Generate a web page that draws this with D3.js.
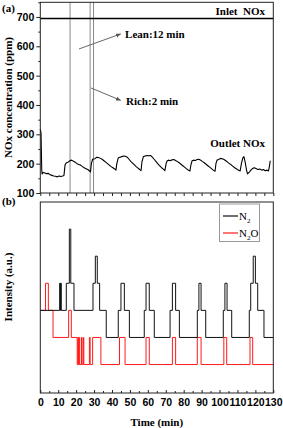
<!DOCTYPE html>
<html lang="en">
  <head>
    <meta charset="UTF-8" />
    <title>NOx lean/rich cycling</title>
    <script src="https://cdn.jsdelivr.net/npm/d3@7"></script>
    <style>
      body {
        margin: 0;
        background: #fff;
      }
      svg {
        font-family: "Liberation Serif", "Times New Roman", serif;
        display: block;
      }
      .axis text {
        font-size: 10.5px;
        font-weight: bold;
        fill: #000;
      }
      .axis path,
      .axis line {
        stroke: #222;
      }
      .lbl {
        font-size: 11px;
        font-weight: bold;
      }
    </style>
  </head>
  <body>
    <div class="chart"></div>
    <script>
      // ---- data ----
      var inletNOx = 695;

      // outlet NOx, [time (min), ppm]
      var outletNOx = [
        [0, 318], [0.4, 305], [0.8, 180], [1.0, 165], [1.5, 170], [2.5, 168],
        [3.5, 166], [4.5, 167], [5.5, 162], [6.5, 160], [7.5, 158], [8.5, 157],
        [9.5, 155], [10.5, 158], [11.5, 156], [12.5, 158], [13.2, 160], [13.8, 195],
        [14.5, 203], [15.5, 205], [16.5, 210], [17.5, 212], [18.5, 208], [19.5, 205],
        [20.5, 200], [21.5, 197], [22.5, 195], [23.5, 190], [24.5, 186], [25.5, 183],
        [26.5, 180], [27.5, 175], [28.0, 172], [28.5, 200], [29.2, 215], [30.5, 217],
        [31.5, 222], [32.5, 221], [33.5, 218], [34.5, 215], [35.5, 210], [36.5, 205],
        [37.5, 200], [38.5, 195], [39.5, 190], [40.5, 186], [41.5, 182], [42.2, 178],
        [42.7, 200], [43.5, 220], [44.5, 222], [45.5, 224], [46.5, 226], [47.5, 225],
        [48.5, 222], [49.5, 215], [50.5, 208], [51.5, 202], [52.5, 196], [53.5, 190],
        [54.5, 185], [55.5, 180], [56.2, 176], [56.7, 205], [57.5, 224], [58.5, 226],
        [59.5, 228], [60.5, 227], [61.5, 228], [62.5, 222], [63.5, 215], [64.5, 208],
        [65.5, 200], [66.5, 193], [67.5, 187], [68.5, 182], [69.5, 176], [70.2, 200],
        [70.8, 210], [71.5, 212], [72.5, 210], [73.5, 213], [74.5, 214], [75.5, 211],
        [76.5, 207], [77.5, 203], [78.5, 198], [79.5, 193], [80.5, 188], [81.5, 183],
        [82.5, 178], [83.5, 175], [84.0, 195], [84.7, 210], [85.5, 212], [86.5, 211],
        [87.5, 214], [88.5, 215], [89.5, 212], [90.5, 207], [91.5, 203], [92.5, 198],
        [93.5, 193], [94.5, 188], [95.5, 183], [96.5, 178], [97.5, 174], [98.0, 200],
        [98.6, 212], [99.5, 214], [100.5, 218], [101.5, 217], [102.5, 214], [103.5, 210],
        [104.5, 205], [105.5, 200], [106.5, 196], [107.5, 191], [108.5, 186], [109.5, 182],
        [110.5, 178], [111.5, 175], [112.2, 200], [113.0, 220], [113.6, 224], [114.3, 205],
        [115.0, 180], [115.6, 165], [116.5, 170], [117.5, 178], [118.5, 184], [119.5, 186],
        [120.5, 183], [121.5, 180], [122.5, 182], [123.5, 178], [124.5, 180], [125.5, 176],
        [126.5, 178], [127.3, 175], [127.8, 190], [128.3, 210]
      ];

      // switching marks (min)
      var cycleMarks = [16.6, 27.8, 29.7];

      // N2 and N2O signal, step levels [time (min), level]
      var n2Steps = [
        [0, 2], [10.8, 3], [11.2, 2], [11.4, 3], [11.7, 2], [14.5, 3], [16.2, 5],
        [17.0, 3], [18.8, 2], [29.4, 3], [30.7, 4], [31.8, 3], [33.1, 2], [36.8, 1],
        [43.5, 2], [45.0, 3], [46.9, 2], [49.7, 1], [58.0, 2], [59.0, 3], [60.8, 2],
        [63.6, 1], [72.4, 2], [73.7, 3], [75.5, 2], [77.6, 1], [87.6, 2], [88.5, 3],
        [89.7, 2], [92.3, 1], [102.1, 2], [103.0, 3], [104.2, 2], [106.8, 1],
        [116.6, 2], [117.4, 3], [118.8, 4], [120.0, 3], [121.3, 2], [124.8, 1], [130, 1]
      ];
      var n2oSteps = [
        [0, 2], [2.9, 3], [4.5, 2], [7.1, 1], [15.8, 2], [17.3, 1], [20.6, 0],
        [21.0, 1], [21.3, 0], [21.7, 1], [22.0, 0], [23.0, 1], [23.3, 0], [24.0, 1],
        [24.3, 0], [27.4, 1], [27.8, 0], [29.2, 1], [33.8, 0], [44.2, 1], [47.3, 0],
        [59.0, 1], [60.8, 0], [73.7, 1], [75.5, 0], [87.6, 1], [89.7, 0], [102.4, 1],
        [104.0, 0], [117.0, 1], [118.5, 0], [130, 0]
      ];

      var timeTicks = d3.range(0, 131, 10);

      // ---- layout ----
      var W = 283, H = 428;
      var svg = d3
        .select(".chart")
        .append("svg")
        .attr("width", W)
        .attr("height", H);

      var x = d3.scaleLinear().domain([0, 130]).range([40.3, 273.3]);
      var ya = d3.scaleLinear().domain([100, 750]).range([193, 2.3]);
      var yb = d3.scaleLinear().domain([-1.05, 6]).range([393, 202]);

      // arrow head
      svg
        .append("defs")
        .append("marker")
        .attr("id", "arr")
        .attr("viewBox", "0 0 10 10")
        .attr("refX", 9)
        .attr("refY", 5)
        .attr("markerWidth", 5)
        .attr("markerHeight", 5)
        .attr("orient", "auto")
        .append("path")
        .attr("d", "M0,1L10,5L0,9Z")
        .attr("fill", "#555");

      // ================= panel (a) =================
      var a = svg.append("g");

      // cycle marker lines
      a.selectAll(".mark")
        .data(cycleMarks)
        .enter()
        .append("line")
        .attr("x1", (d) => x(d))
        .attr("x2", (d) => x(d))
        .attr("y1", ya(750))
        .attr("y2", ya(100))
        .attr("stroke", "#8a8a8a")
        .attr("stroke-width", 1);

      // inlet line
      a.append("line")
        .attr("x1", x(0))
        .attr("x2", x(130))
        .attr("y1", ya(inletNOx))
        .attr("y2", ya(inletNOx))
        .attr("stroke", "#000")
        .attr("stroke-width", 1.5);

      // outlet line
      var lineA = d3
        .line()
        .x((d) => x(d[0]))
        .y((d) => ya(d[1]));
      a.append("path")
        .datum(outletNOx)
        .attr("fill", "none")
        .attr("stroke", "#000")
        .attr("stroke-width", 1.1)
        .attr("stroke-linejoin", "round")
        .attr("d", lineA);

      // frame
      a.append("rect")
        .attr("x", x(0))
        .attr("y", ya(750))
        .attr("width", x(130) - x(0))
        .attr("height", ya(100) - ya(750))
        .attr("fill", "none")
        .attr("stroke", "#222");

      // y axis with minor ticks
      a.append("g")
        .attr("class", "axis")
        .attr("transform", "translate(" + x(0) + ",0)")
        .call(d3.axisLeft(ya).tickValues(d3.range(100, 701, 100)).tickSize(4).tickPadding(2))
        .call((g) => g.select(".domain").remove());
      a.append("g")
        .attr("class", "axis")
        .attr("transform", "translate(" + x(0) + ",0)")
        .call(d3.axisLeft(ya).tickValues(d3.range(150, 751, 100)).tickSize(2).tickFormat(""))
        .call((g) => g.select(".domain").remove());

      // x ticks, no labels
      a.append("g")
        .attr("class", "axis")
        .attr("transform", "translate(0," + ya(100) + ")")
        .call(d3.axisBottom(x).tickValues(d3.range(0, 131, 5)).tickSize(3).tickFormat(""))
        .call((g) => g.select(".domain").remove());

      // annotations
      a.append("line")
        .attr("x1", x(21.6))
        .attr("y1", ya(591))
        .attr("x2", x(44.8))
        .attr("y2", ya(642))
        .attr("stroke", "#666")
        .attr("marker-end", "url(#arr)");
      a.append("line")
        .attr("x1", x(28.3))
        .attr("y1", ya(458))
        .attr("x2", x(44.8))
        .attr("y2", ya(416))
        .attr("stroke", "#666")
        .attr("marker-end", "url(#arr)");

      var txt = [
        { t: "Lean:12 min", x: x(47.3), y: ya(643), a: "start" },
        { t: "Rich:2 min", x: x(47.8), y: ya(414), a: "start" },
        { t: "Inlet  NOx", x: 265, y: 11, a: "end" },
        { t: "Outlet NOx", x: 265, y: 142.7, a: "end" },
        { t: "(a)", x: 2, y: 8.5, a: "start" },
        { t: "(b)", x: 2, y: 201, a: "start" }
      ];
      svg
        .selectAll(".ann")
        .data(txt)
        .enter()
        .append("text")
        .attr("class", "lbl")
        .attr("x", (d) => d.x)
        .attr("y", (d) => d.y)
        .attr("dy", "0.35em")
        .attr("text-anchor", (d) => d.a)
        .style("white-space", "pre")
        .text((d) => d.t);

      svg
        .append("text")
        .attr("class", "lbl")
        .attr("transform", "translate(8.5,97.5) rotate(-90)")
        .attr("dy", "0.35em")
        .attr("text-anchor", "middle")
        .text("NOx concentration (ppm)");

      // ================= panel (b) =================
      var b = svg.append("g");

      var stepLine = d3
        .line()
        .curve(d3.curveStepAfter)
        .x((d) => x(d[0]))
        .y((d) => yb(d[1]));

      b.append("path")
        .datum(n2oSteps)
        .attr("fill", "none")
        .attr("stroke", "#ff1a1a")
        .attr("stroke-width", 1)
        .attr("d", stepLine);
      b.append("path")
        .datum(n2Steps)
        .attr("fill", "none")
        .attr("stroke", "#111")
        .attr("stroke-width", 1)
        .attr("d", stepLine);

      b.append("rect")
        .attr("x", x(0))
        .attr("y", yb(6))
        .attr("width", x(130) - x(0))
        .attr("height", yb(-1.05) - yb(6))
        .attr("fill", "none")
        .attr("stroke", "#222");

      b.append("g")
        .attr("class", "axis")
        .attr("transform", "translate(0," + yb(-1.05) + ")")
        .call(d3.axisBottom(x).tickValues(timeTicks).tickSizeInner(-3).tickSizeOuter(0).tickPadding(6))
        .call((g) => g.select(".domain").remove());
      b.append("g")
        .attr("class", "axis")
        .attr("transform", "translate(0," + yb(-1.05) + ")")
        .call(d3.axisBottom(x).tickValues(d3.range(5, 130, 10)).tickSizeInner(-2).tickSizeOuter(0).tickFormat(""))
        .call((g) => g.select(".domain").remove());

      svg
        .append("text")
        .attr("class", "lbl")
        .attr("x", (x(0) + x(130)) / 2)
        .attr("y", 422.5)
        .attr("dy", "0.35em")
        .attr("text-anchor", "middle")
        .text("Time (min)");

      svg
        .append("text")
        .attr("class", "lbl")
        .attr("transform", "translate(8.5,287) rotate(-90)")
        .attr("dy", "0.35em")
        .attr("text-anchor", "middle")
        .text("Intensity (a.u.)");

      // legend
      var legendItems = [
        { sub: "2", after: "", color: "#111" },
        { sub: "2", after: "O", color: "#ff1a1a" }
      ];
      var lg = b.append("g").attr("transform", "translate(219.5,204)");
      lg.append("rect")
        .attr("width", 40)
        .attr("height", 37.5)
        .attr("fill", "#fff")
        .attr("stroke", "#999");
      var li = lg
        .selectAll(".li")
        .data(legendItems)
        .enter()
        .append("g")
        .attr("transform", (d, i) => "translate(0," + (12 + i * 17) + ")");
      li.append("line")
        .attr("x1", 3.5)
        .attr("x2", 18.5)
        .attr("stroke", (d) => d.color)
        .attr("stroke-width", 1.2);
      var lt = li
        .append("text")
        .attr("x", 19.5)
        .attr("dy", "0.35em")
        .style("font-size", "11px");
      lt.append("tspan").text("N");
      lt.append("tspan").attr("dy", 3).style("font-size", "7px").text((d) => d.sub);
      lt.append("tspan").attr("dy", -3).text((d) => d.after);
    </script>
  </body>
</html>
